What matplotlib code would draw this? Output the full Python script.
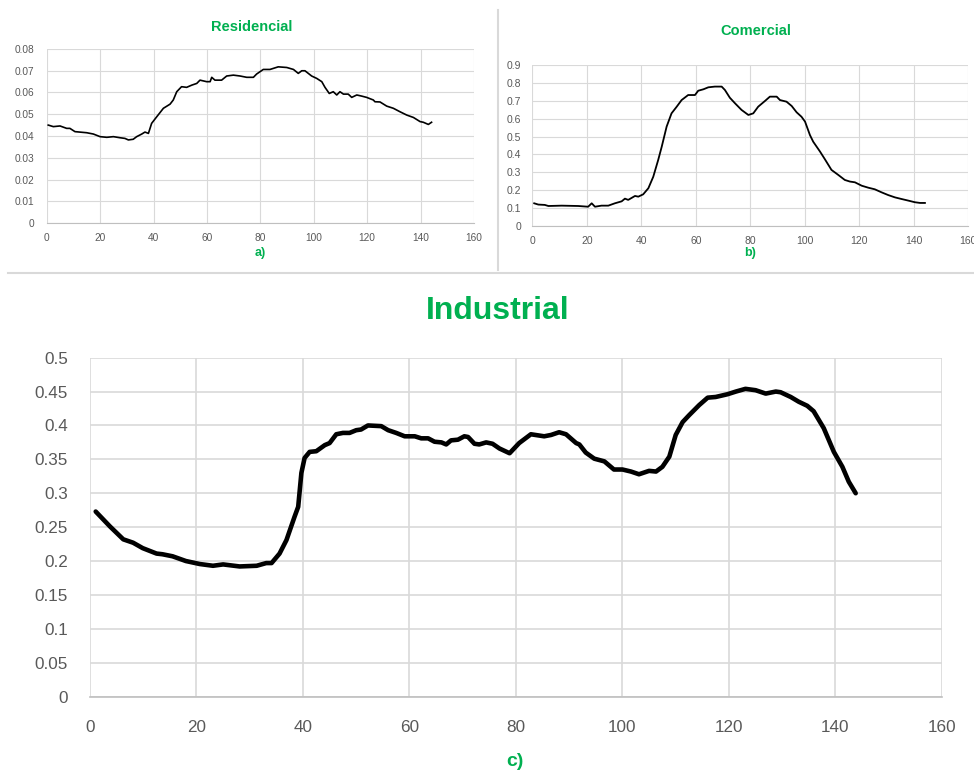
import matplotlib
matplotlib.use("Agg")
import matplotlib.pyplot as plt
from matplotlib.lines import Line2D

# ---------------- data ----------------
res_x = [0.6, 2.5, 5, 7.5, 8.7, 10.6, 15, 17.5, 20, 22.5, 25, 27.5, 29.3, 30.6, 32.4, 33.7,
         35.6, 36.8, 38.1, 39.3, 41.2, 43.7, 46.2, 47.4, 48.7, 50.5, 52.4, 54.3, 56.2, 57.4,
         59.9, 61.2, 61.8, 63, 65.5, 67.4, 69.9, 72.4, 74.9, 77.4, 78.6, 81.1, 83.6, 86.7,
         89.9, 92.4, 94.2, 95.5, 96.7, 99.2, 101.1, 103, 104.2, 105.8, 107.3, 108.6, 109.8,
         111.1, 112.9, 114.2, 116.1, 117.9, 119.8, 122.3, 122.9, 124.8, 127.3, 129.8, 132.3,
         134.8, 137.3, 139.8, 141, 142.9, 144.1]
res_y = [0.0450, 0.0443, 0.0446, 0.0435, 0.0435, 0.0420, 0.0415, 0.0409, 0.0397, 0.0394,
         0.0397, 0.0392, 0.0389, 0.0382, 0.0385, 0.0397, 0.0409, 0.0418, 0.0412, 0.0458,
         0.0488, 0.0527, 0.0546, 0.0565, 0.0603, 0.0626, 0.0623, 0.0633, 0.0641, 0.0656,
         0.0649, 0.0649, 0.0669, 0.0656, 0.0656, 0.0675, 0.0679, 0.0675, 0.0669, 0.0669,
         0.0684, 0.0705, 0.0705, 0.0717, 0.0714, 0.0705, 0.0687, 0.0699, 0.0699, 0.0675,
         0.0664, 0.0649, 0.0623, 0.0595, 0.0603, 0.0588, 0.0603, 0.0592, 0.0592, 0.0577,
         0.0588, 0.0583, 0.0577, 0.0565, 0.0557, 0.0556, 0.0537, 0.0527, 0.0511, 0.0496,
         0.0485, 0.0466, 0.0463, 0.0453, 0.0463]

com_x = [0.7, 2.2, 4.6, 5.9, 10.8, 16.9, 20.5, 21.8, 23, 25.4, 27.9, 30.3, 32.8, 34, 35.2,
         37.7, 38.9, 40.7, 42.6, 44.4, 46.2, 47.5, 49.3, 51.1, 53, 54.8, 57.2, 59.7, 60.9,
         62.8, 64.6, 67, 69.5, 70.7, 72.5, 74.4, 76.8, 79.3, 81.1, 82.9, 85.4, 87.2, 89.7,
         90.9, 93.3, 95.2, 97, 98.8, 100.1, 101.9, 103.1, 105.6, 107.4, 109.8, 112.3, 114.7,
         116.6, 118.4, 120.9, 123.3, 125.7, 128.2, 130.6, 133.1, 135.5, 138, 140.4, 142.3, 144.1]
com_y = [0.128, 0.121, 0.119, 0.113, 0.115, 0.113, 0.109, 0.128, 0.109, 0.115, 0.115, 0.128,
         0.139, 0.154, 0.147, 0.169, 0.165, 0.178, 0.212, 0.276, 0.369, 0.443, 0.555, 0.629,
         0.666, 0.703, 0.731, 0.731, 0.755, 0.763, 0.774, 0.778, 0.778, 0.759, 0.716, 0.685,
         0.648, 0.620, 0.629, 0.666, 0.698, 0.722, 0.722, 0.703, 0.694, 0.670, 0.635, 0.610,
         0.583, 0.508, 0.471, 0.416, 0.373, 0.314, 0.286, 0.258, 0.249, 0.245, 0.226, 0.215,
         0.206, 0.189, 0.174, 0.161, 0.152, 0.143, 0.134, 0.130, 0.130]

ind_x = [1.07, 3.75, 6.25, 8.1, 9.9, 12.5, 13.6, 15.5, 18, 20.6, 23.1, 25, 28.1, 31.3, 33.1,
         34.1, 35.6, 36.9, 38.4, 39.1, 39.7, 40.3, 41.25, 42.5, 44.1, 45, 46.25, 47.5, 48.75,
         50, 50.9, 52.2, 54.7, 56, 57.5, 59.1, 61, 62.2, 63.5, 64.7, 66, 66.9, 67.8, 69.1,
         70.3, 71, 72.2, 73.1, 74.4, 75.6, 76.9, 78.8, 80.6, 82.8, 85.3, 86.6, 88.1, 89.4,
         91.3, 91.9, 93.1, 94.7, 96.6, 98.4, 100, 101.6, 103.1, 105, 106.3, 107.5, 108.8,
         110, 111.3, 112.5, 114.4, 116, 117.5, 119.7, 121.3, 123.1, 125, 126.9, 128.8, 129.7,
         131.6, 133.1, 134.7, 135.9, 137.8, 139.7, 141.3, 142.5, 143.8]
ind_y = [0.273, 0.251, 0.232, 0.227, 0.219, 0.211, 0.210, 0.207, 0.200, 0.1956, 0.193, 0.195,
         0.192, 0.193, 0.197, 0.197, 0.211, 0.231, 0.265, 0.280, 0.330, 0.352, 0.361, 0.362,
         0.371, 0.374, 0.387, 0.389, 0.389, 0.393, 0.394, 0.400, 0.399, 0.393, 0.389, 0.384,
         0.384, 0.381, 0.381, 0.376, 0.375, 0.372, 0.378, 0.379, 0.384, 0.383, 0.373, 0.372,
         0.375, 0.373, 0.366, 0.359, 0.374, 0.387, 0.384, 0.386, 0.390, 0.387, 0.374, 0.372,
         0.360, 0.351, 0.347, 0.335, 0.335, 0.332, 0.328, 0.333, 0.332, 0.339, 0.354, 0.386,
         0.405, 0.415, 0.430, 0.441, 0.442, 0.446, 0.450, 0.454, 0.452, 0.447, 0.450, 0.449,
         0.442, 0.435, 0.429, 0.421, 0.396, 0.361, 0.339, 0.317, 0.300]

x_ticks = [0, 20, 40, 60, 80, 100, 120, 140, 160]
res_yticks = [0, 0.01, 0.02, 0.03, 0.04, 0.05, 0.06, 0.07, 0.08]
res_ylabels = ["0", "0.01", "0.02", "0.03", "0.04", "0.05", "0.06", "0.07", "0.08"]
com_yticks = [0, 0.1, 0.2, 0.3, 0.4, 0.5, 0.6, 0.7, 0.8, 0.9]
com_ylabels = ["0", "0.1", "0.2", "0.3", "0.4", "0.5", "0.6", "0.7", "0.8", "0.9"]
ind_yticks = [0, 0.05, 0.1, 0.15, 0.2, 0.25, 0.3, 0.35, 0.4, 0.45, 0.5]
ind_ylabels = ["0", "0.05", "0.1", "0.15", "0.2", "0.25", "0.3", "0.35", "0.4", "0.45", "0.5"]

titles = ["Residencial", "Comercial", "Industrial"]
sublabels = ["a)", "b)", "c)"]

GREEN = "#00B050"
GRID = "#D9D9D9"
TICKC = "#595959"

plt.rcParams['font.family'] = ['Liberation Sans', 'DejaVu Sans']

fig = plt.figure(figsize=(9.74, 7.71), dpi=100)


def style(ax, yticks, ylabels, ymax, fs, xpad, ypad, gw):
    ax.set_xlim(0, 160)
    ax.set_ylim(0, ymax)
    ax.set_xticks(x_ticks)
    ax.set_xticklabels([str(t) for t in x_ticks])
    ax.set_yticks(yticks)
    ax.set_yticklabels(ylabels)
    for s in ["top", "right", "left"]:
        ax.spines[s].set_visible(False)
    ax.spines["bottom"].set_color("#BFBFBF")
    ax.spines["bottom"].set_linewidth(gw)
    ax.grid(True, color=GRID, linewidth=gw)
    ax.set_axisbelow(True)
    ax.tick_params(axis="both", length=0, labelsize=fs, colors=TICKC)
    ax.tick_params(axis="x", pad=xpad)
    ax.tick_params(axis="y", pad=ypad)
    ax.set_facecolor("white")


# Panel a
ax1 = fig.add_axes([0.0479, 0.7104, 0.4388, 0.2264])
ax1.plot(res_x, res_y, color="black", linewidth=1.2, solid_joinstyle="round")
style(ax1, res_yticks, res_ylabels, 0.08, 7.3, 7, 9, 0.8)

# Panel b
ax2 = fig.add_axes([0.5465, 0.7065, 0.4476, 0.2096])
ax2.plot(com_x, com_y, color="black", linewidth=1.3, solid_joinstyle="round")
style(ax2, com_yticks, com_ylabels, 0.9, 7.5, 7, 8, 0.8)

# Panel c
ax3 = fig.add_axes([0.0924, 0.0965, 0.8747, 0.4396])
ax3.plot(ind_x, ind_y, color="black", linewidth=3.3, solid_joinstyle="round",
         solid_capstyle="round")
style(ax3, ind_yticks, ind_ylabels, 0.5, 12.3, 17, 16, 1.2)

# titles and sub-labels
fig.text(252 / 974, 1 - 27 / 771, titles[0], color=GREEN, fontsize=10.5,
         fontweight="bold", ha="center", va="center")
fig.text(756 / 974, 1 - 31 / 771, titles[1], color=GREEN, fontsize=10.5,
         fontweight="bold", ha="center", va="center")
fig.text(498 / 974, 1 - 311 / 771, titles[2], color=GREEN, fontsize=23,
         fontweight="bold", ha="center", va="center")
fig.text(260 / 974, 1 - 253 / 771, sublabels[0], color=GREEN, fontsize=9,
         fontweight="bold", ha="center", va="center")
fig.text(750 / 974, 1 - 253 / 771, sublabels[1], color=GREEN, fontsize=9,
         fontweight="bold", ha="center", va="center")
fig.text(515 / 974, 1 - 761 / 771, sublabels[2], color=GREEN, fontsize=14,
         fontweight="bold", ha="center", va="center")

# separators
fig.add_artist(Line2D([498 / 974, 498 / 974], [1 - 10 / 771, 1 - 270 / 771],
                      transform=fig.transFigure, color="#D9D9D9", linewidth=1.5))
fig.add_artist(Line2D([8 / 974, 1.0], [1 - 273 / 771, 1 - 273 / 771],
                      transform=fig.transFigure, color="#D9D9D9", linewidth=1.5))

fig.savefig("out.png", dpi=100, facecolor="white")
